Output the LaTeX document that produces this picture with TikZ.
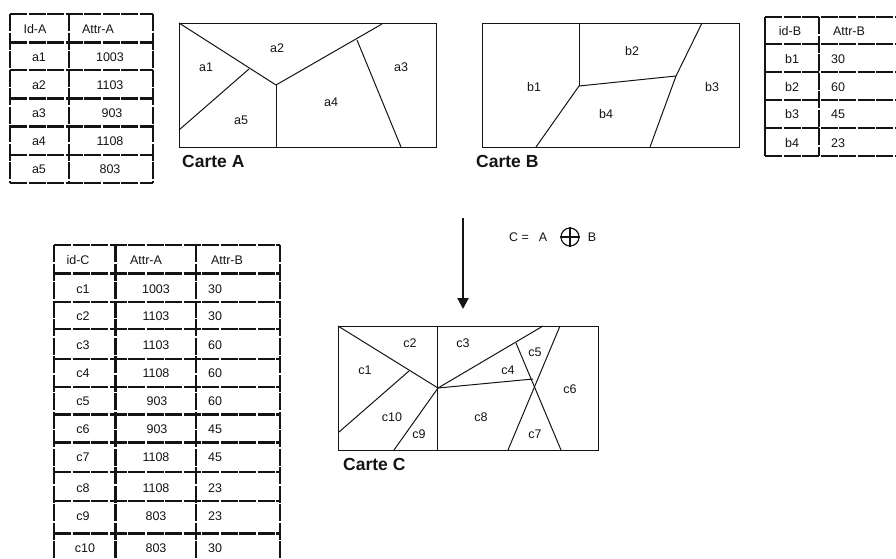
\documentclass[tikz,border=0pt]{standalone}
\usepackage{fontspec}
\setmainfont{Liberation Sans}
\usetikzlibrary{arrows.meta}
\definecolor{ink}{RGB}{20,20,20}

\begin{document}
\begin{tikzpicture}[x=1pt,y=-1pt,font=\fontsize{12.5}{15}\selectfont,
  every node/.style={inner sep=0pt,text=ink},
  tbl/.style={ink,line width=2pt,dash pattern=on 17pt off 1.5pt},
  tblb/.style={ink,line width=3pt,dash pattern=on 17pt off 1.5pt},
  frame/.style={ink,line width=1pt},
  edge/.style={ink,line width=1pt},
  title/.style={anchor=west,font=\fontsize{17.5}{20}\selectfont\bfseries}]
  \useasboundingbox (0,0) rectangle (896,558);

  % table A
  \draw [tbl] (10,14) -- (153,14);
  \draw [tblb] (10,42) -- (153,42);
  \draw [tbl] (10,70) -- (153,70);
  \draw [tblb] (10,98) -- (153,98);
  \draw [tblb] (10,126) -- (153,126);
  \draw [tbl] (10,155) -- (153,155);
  \draw [tbl] (10,183) -- (153,183);
  \draw [tbl] (10,14) -- (10,183);
  \draw [tbl] (69,14) -- (69,183);
  \draw [tbl] (153,14) -- (153,183);
  \node (a-id) at (35,29) {Id-A};
  \node (a-attr) at (98,29) {Attr-A};
  \node (a-r1) at (39,57) {a1};
  \node (a-r2) at (39,85) {a2};
  \node (a-r3) at (39,113) {a3};
  \node (a-r4) at (39,141) {a4};
  \node (a-r5) at (39,169) {a5};
  \node (a-v1) at (110,57) {1003};
  \node (a-v2) at (110,85) {1103};
  \node (a-v3) at (112,113) {903};
  \node (a-v4) at (110,141) {1108};
  \node (a-v5) at (110,169) {803};

  % carte A
  \coordinate (a-n1) at (276,85);
  \coordinate (a-n2) at (249,69);
  \coordinate (a-n3) at (357,40);
  \draw [frame] (179,23) rectangle (436,147);
  \draw [edge] (179,23) -- (a-n1);
  \draw [edge] (a-n2) -- (179,130);
  \draw [edge] (a-n1) -- (276,147);
  \draw [edge] (a-n1) -- (382,24);
  \draw [edge] (a-n3) -- (401,147);
  \node (a1) at (206,67) {a1};
  \node (a2) at (277,48) {a2};
  \node (a3) at (401,67) {a3};
  \node (a4) at (331,102) {a4};
  \node (a5) at (241,120) {a5};
  \node (carte-a) [title] at (182,161) {Carte A};

  % carte B
  \coordinate (b-n1) at (579,86);
  \coordinate (b-n2) at (676,76);
  \draw [frame] (482,23) rectangle (739,147);
  \draw [edge] (579,23) -- (b-n1);
  \draw [edge] (b-n1) -- (b-n2);
  \draw [edge] (702,23) -- (b-n2);
  \draw [edge] (b-n2) -- (650,147);
  \draw [edge] (b-n1) -- (536,147);
  \node (b1) at (534,87) {b1};
  \node (b2) at (632,51) {b2};
  \node (b3) at (712,87) {b3};
  \node (b4) at (606,114) {b4};
  \node (carte-b) [title] at (476,161) {Carte B};

  % table B
  \draw [tbl] (765,17) -- (896,17);
  \draw [tbl] (765,44) -- (896,44);
  \draw [tbl] (765,72) -- (896,72);
  \draw [tbl] (765,100) -- (896,100);
  \draw [tbl] (765,128) -- (896,128);
  \draw [tbl] (765,156) -- (896,156);
  \draw [ink,line width=2pt] (765,17) -- (765,156);
  \draw [tbl] (819,17) -- (819,156);
  \node (b-id) at (790,31) {id-B};
  \node (b-attr) at (849,31) {Attr-B};
  \node (b-r1) at (792,59) {b1};
  \node (b-r2) at (792,87) {b2};
  \node (b-r3) at (792,114) {b3};
  \node (b-r4) at (792,143) {b4};
  \node (b-v1) at (838,59) {30};
  \node (b-v2) at (838,87) {60};
  \node (b-v3) at (838,114) {45};
  \node (b-v4) at (838,143) {23};

  % overlay
  \coordinate (arrow-s) at (463,218);
  \coordinate (arrow-e) at (463,309);
  \draw [-{Triangle[length=11pt,width=11pt]},ink,line width=2.2pt] (arrow-s) -- (arrow-e);
  \node (eq-c) at (519,237) {C =};
  \node (eq-a) at (543,237) {A};
  \node (op) [draw=ink,line width=1.2pt,circle,minimum size=18pt] at (570,237) {};
  \draw [ink,line width=1.2pt] (op.north) -- (op.south);
  \draw [ink,line width=1.2pt] (op.west) -- (op.east);
  \node (eq-b) at (592,237) {B};

  % carte C
  \coordinate (c-n1) at (438,388);
  \coordinate (c-n2) at (409,371);
  \coordinate (c-n3) at (533,379);
  \coordinate (c-n4) at (516,343);
  \draw [frame] (338,326) rectangle (598,450);
  \draw [edge] (338,326) -- (c-n1);
  \draw [edge] (c-n2) -- (339,432);
  \draw [edge] (437,326) -- (437,450);
  \draw [edge] (c-n1) -- (394,450);
  \draw [edge] (c-n1) -- (543,326);
  \draw [edge] (c-n1) -- (c-n3);
  \draw [edge] (c-n4) -- (561,450);
  \draw [edge] (560,326) -- (508,450);
  \node (c1) at (365,370) {c1};
  \node (c2) at (410,343) {c2};
  \node (c3) at (463,343) {c3};
  \node (c4) at (508,370) {c4};
  \node (c5) at (535,352) {c5};
  \node (c6) at (570,389) {c6};
  \node (c7) at (535,434) {c7};
  \node (c8) at (481,417) {c8};
  \node (c9) at (419,434) {c9};
  \node (c10) at (392,417) {c10};
  \node (carte-c) [title] at (343,464) {Carte C};

  % table C
  \draw [tbl] (54,245) -- (280,245);
  \draw [tblb] (54,273) -- (280,273);
  \draw [tbl] (54,302) -- (280,302);
  \draw [tbl] (54,329) -- (280,329);
  \draw [tbl] (54,359) -- (280,359);
  \draw [tbl] (54,387) -- (280,387);
  \draw [tblb] (54,414) -- (280,414);
  \draw [tblb] (54,442) -- (280,442);
  \draw [tbl] (54,472) -- (280,472);
  \draw [tbl] (54,501) -- (280,501);
  \draw [tblb] (54,533) -- (280,533);
  \draw [tbl] (54,245) -- (54,558);
  \draw [tblb] (115,245) -- (115,558);
  \draw [tbl] (196,245) -- (196,558);
  \draw [tbl] (280,245) -- (280,558);
  \node (c-id) at (78,260) {id-C};
  \node (c-attra) at (146,260) {Attr-A};
  \node (c-attrb) at (227,260) {Attr-B};
  \node (c-r1) at (83,289) {c1};
  \node (c-r2) at (83,316) {c2};
  \node (c-r3) at (83,345) {c3};
  \node (c-r4) at (83,373) {c4};
  \node (c-r5) at (83,401) {c5};
  \node (c-r6) at (83,429) {c6};
  \node (c-r7) at (83,457) {c7};
  \node (c-r8) at (83,488) {c8};
  \node (c-r9) at (83,516) {c9};
  \node (c-r10) at (85,548) {c10};
  \node (c-a1) at (156,289) {1003};
  \node (c-a2) at (156,316) {1103};
  \node (c-a3) at (156,345) {1103};
  \node (c-a4) at (156,373) {1108};
  \node (c-a5) at (157,401) {903};
  \node (c-a6) at (157,429) {903};
  \node (c-a7) at (156,457) {1108};
  \node (c-a8) at (156,488) {1108};
  \node (c-a9) at (156,516) {803};
  \node (c-a10) at (156,548) {803};
  \node (c-b1) at (215,289) {30};
  \node (c-b2) at (215,316) {30};
  \node (c-b3) at (215,345) {60};
  \node (c-b4) at (215,373) {60};
  \node (c-b5) at (215,401) {60};
  \node (c-b6) at (215,429) {45};
  \node (c-b7) at (215,457) {45};
  \node (c-b8) at (215,488) {23};
  \node (c-b9) at (215,516) {23};
  \node (c-b10) at (215,548) {30};
\end{tikzpicture}
\end{document}
